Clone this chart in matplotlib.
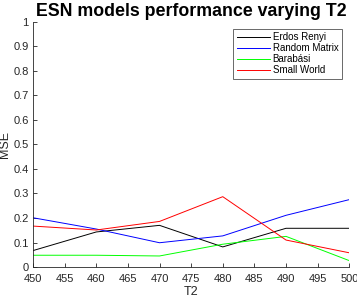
import matplotlib
matplotlib.use("Agg")
import matplotlib.pyplot as plt

plt.rcParams["font.family"] = ["Liberation Sans", "DejaVu Sans"]

t2 = [450, 460, 470, 480, 490, 500]
erdos_renyi = [0.067, 0.143, 0.170, 0.082, 0.158, 0.158]
random_matrix = [0.201, 0.155, 0.099, 0.127, 0.211, 0.275]
barabasi = [0.048, 0.048, 0.045, 0.093, 0.125, 0.026]
small_world = [0.167, 0.151, 0.186, 0.287, 0.110, 0.058]

series = [
    ("Erdos Renyi", erdos_renyi, "#000000"),
    ("Random Matrix", random_matrix, "#0000ff"),
    ("Barabási", barabasi, "#00ff00"),
    ("Small World", small_world, "#ff0000"),
]

fig = plt.figure(figsize=(3.57, 2.97), dpi=100)
ax = fig.add_axes([0.0924, 0.101, 0.886, 0.825])

for label, values, color in series:
    ax.plot(t2, values, color=color, linewidth=0.7, label=label)

ax.set_xlim(450, 500)
ax.set_ylim(0, 1)
ax.set_xticks(range(450, 501, 5))
ax.set_yticks([0, 0.1, 0.2, 0.3, 0.4, 0.5, 0.6, 0.7, 0.8, 0.9, 1])
ax.set_yticklabels(["0", "0.1", "0.2", "0.3", "0.4", "0.5", "0.6", "0.7", "0.8", "0.9", "1"])
ax.tick_params(direction="in", length=3, width=0.6, labelsize=8, colors="#262626")
ax.tick_params(axis="x", pad=5)
ax.tick_params(axis="y", pad=3)
for side in ("top", "right"):
    ax.spines[side].set_visible(False)
for side in ("left", "bottom"):
    ax.spines[side].set_color("#262626")
    ax.spines[side].set_linewidth(0.6)

ax.set_xlabel("T2", fontsize=9, labelpad=1.5, color="#262626")
ax.set_ylabel("MSE", fontsize=9, labelpad=2, color="#262626")
ax.set_title("ESN models performance varying T2", fontsize=12.8, fontweight="bold", pad=4)

leg = ax.legend(loc="upper right", bbox_to_anchor=(0.976, 0.972), fontsize=7,
                frameon=True, fancybox=False, handlelength=3.4, handletextpad=0.3,
                borderpad=0.35, labelspacing=0.1, borderaxespad=0)
leg.get_frame().set_edgecolor("#262626")
leg.get_frame().set_linewidth(0.6)

fig.savefig("out.png", dpi=100)
